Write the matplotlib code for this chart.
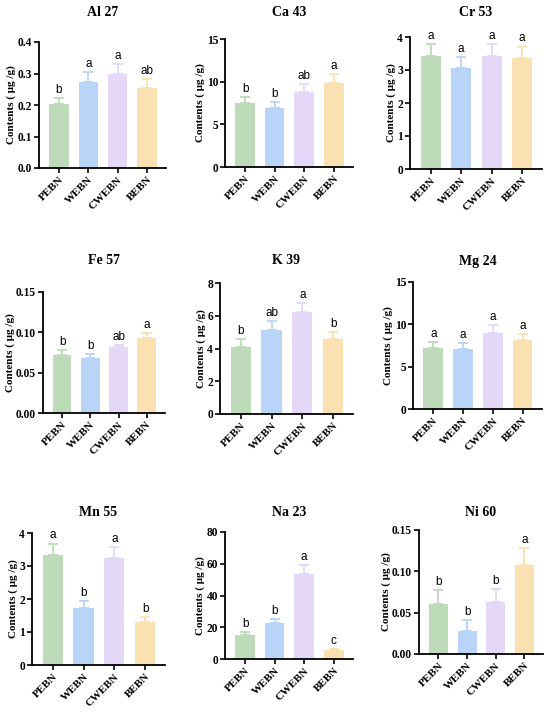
import matplotlib
matplotlib.use("Agg")
import matplotlib.pyplot as plt
import numpy as np

plt.rcParams['font.family'] = ['Liberation Serif', 'DejaVu Serif']

groups = ['PEBN', 'WEBN', 'CWEBN', 'BEBN']
colors = ['#bddbb9', '#b8d5f8', '#e4d7f8', '#fbe1b1']

elements = ['Al 27', 'Ca 43', 'Cr 53', 'Fe 57', 'K 39', 'Mg 24', 'Mn 55', 'Na 23', 'Ni 60']

al_mean = [0.203, 0.274, 0.300, 0.254]
al_err = [0.020, 0.030, 0.030, 0.028]
ca_mean = [7.5, 6.9, 8.8, 9.8]
ca_err = [0.75, 0.7, 0.9, 1.05]
cr_mean = [3.42, 3.05, 3.42, 3.35]
cr_err = [0.38, 0.35, 0.38, 0.36]
fe_mean = [0.072, 0.068, 0.082, 0.093]
fe_err = [0.006, 0.005, 0.002, 0.006]
k_mean = [4.1, 5.1, 6.2, 4.55]
k_err = [0.45, 0.55, 0.6, 0.45]
mg_mean = [7.2, 7.1, 9.0, 8.1]
mg_err = [0.7, 0.7, 0.9, 0.8]
mn_mean = [3.32, 1.72, 3.23, 1.30]
mn_err = [0.36, 0.21, 0.35, 0.16]
na_mean = [15.0, 22.7, 53.5, 5.7]
na_err = [1.8, 2.3, 5.5, 0.8]
ni_mean = [0.061, 0.028, 0.063, 0.108]
ni_err = [0.016, 0.013, 0.016, 0.020]

means = [al_mean, ca_mean, cr_mean, fe_mean, k_mean, mg_mean, mn_mean, na_mean, ni_mean]
errs = [al_err, ca_err, cr_err, fe_err, k_err, mg_err, mn_err, na_err, ni_err]
letters = [['b', 'a', 'a', 'ab'],
           ['b', 'b', 'ab', 'a'],
           ['a', 'a', 'a', 'a'],
           ['b', 'b', 'ab', 'a'],
           ['b', 'ab', 'a', 'b'],
           ['a', 'a', 'a', 'a'],
           ['a', 'b', 'a', 'b'],
           ['b', 'b', 'a', 'c'],
           ['b', 'b', 'b', 'a']]
yticks = [[0.0, 0.1, 0.2, 0.3, 0.4],
          [0, 5, 10, 15],
          [0, 1, 2, 3, 4],
          [0.00, 0.05, 0.10, 0.15],
          [0, 2, 4, 6, 8],
          [0, 5, 10, 15],
          [0, 1, 2, 3, 4],
          [0, 20, 40, 60, 80],
          [0.00, 0.05, 0.10, 0.15]]
yfmt = ['%.1f', '%d', '%d', '%.2f', '%d', '%d', '%d', '%d', '%.2f']

# axes boxes in pixels: left, right, top, bottom(y=0)
boxes = [(39, 166, 42, 168), (225, 353, 39, 167), (410, 542, 37, 169),
         (43, 165, 292, 413), (220, 353, 283, 414), (413, 542, 282, 409),
         (32, 165, 533, 665), (225, 353, 532, 659), (419, 543, 530, 654)]
title_y = [12, 12, 12, 261, 261, 261, 513, 513, 513]

W, H = 550, 715
fig = plt.figure(figsize=(W / 100, H / 100), dpi=100)

x = np.arange(len(groups))
for i, el in enumerate(elements):
    l, r, t, b = boxes[i]
    ax = fig.add_axes([l / W, 1 - b / H, (r - l) / W, (b - t) / H])
    ax.bar(x, means[i], width=0.66, color=colors, zorder=2)
    for j in range(4):
        ax.errorbar(x[j], means[i][j], yerr=[[0], [errs[i][j]]], fmt='none',
                    ecolor=colors[j], elinewidth=1.3, capsize=3.6, capthick=1.3, zorder=1)
        ax.annotate(letters[i][j], (x[j], means[i][j] + errs[i][j]),
                    xytext=(0, 1.5), textcoords='offset points', ha='center', va='bottom',
                    fontsize=8.5, family='Liberation Sans')
    ax.set_xlim(-0.68, 3.65)
    ax.set_ylim(yticks[i][0], yticks[i][-1])
    ax.set_yticks(yticks[i])
    ax.set_yticklabels([yfmt[i] % v for v in yticks[i]], fontsize=8.3, fontweight='bold')
    ax.set_xticks(x)
    ax.set_xticklabels(groups, rotation=45, ha='right', rotation_mode='anchor',
                       fontsize=8, fontweight='bold')
    ax.set_ylabel('Contents ( μg /g)', fontsize=8, fontweight='bold', labelpad=1)
    for s in ['top', 'right']:
        ax.spines[s].set_visible(False)
    for s in ['left', 'bottom']:
        ax.spines[s].set_linewidth(1.3)
    ax.tick_params(width=1.2, length=3.5, pad=1.5)
    fig.text((l + r) / 2 / W, 1 - title_y[i] / H, el, ha='center', va='center',
             fontsize=10, fontweight='bold')

fig.savefig('out.png', dpi=100)
